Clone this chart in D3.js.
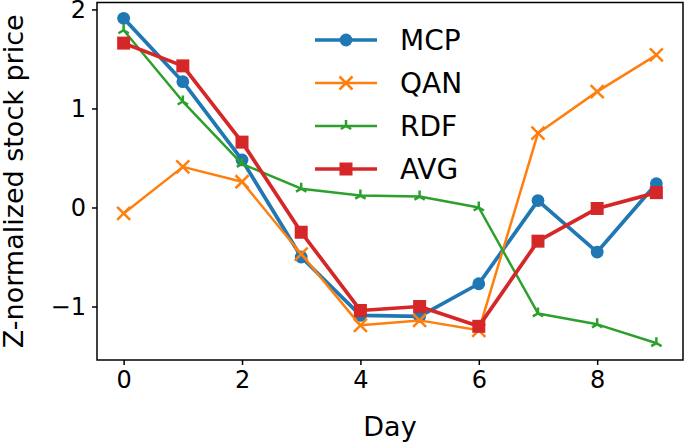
<!DOCTYPE html>
<html>
<head>
<meta charset="utf-8">
<script src="https://cdn.jsdelivr.net/npm/d3@7"></script>
<style>
  body { margin: 0; background: #fff; }
  svg { display: block; font-family: "DejaVu Sans", sans-serif; }
</style>
</head>
<body>
<svg width="685" height="443"></svg>
<script>
// data
var days = [0, 1, 2, 3, 4, 5, 6, 7, 8, 9];
var mcp = [1.91, 1.27, 0.48, -0.50, -1.09, -1.10, -0.77, 0.07, -0.45, 0.24];
var qan = [-0.06, 0.41, 0.26, -0.47, -1.19, -1.14, -1.24, 0.75, 1.17, 1.54];
var rdf = [1.79, 1.07, 0.44, 0.19, 0.12, 0.11, 0.00, -1.07, -1.18, -1.37];
var avg = [1.66, 1.43, 0.66, -0.25, -1.04, -1.00, -1.20, -0.34, -0.01, 0.15];
var xTicks = [0, 2, 4, 6, 8];
var yTicks = [-1, 0, 1, 2];

var seriesList = [
    { name: "MCP", values: mcp, color: "#1f77b4", width: 3.7, marker: "circle" },
    { name: "QAN", values: qan, color: "#ff7f0e", width: 2.5, marker: "x" },
    { name: "RDF", values: rdf, color: "#2ca02c", width: 2.5, marker: "tri" },
    { name: "AVG", values: avg, color: "#d62728", width: 3.7, marker: "square" }
];

var svg = d3.select("svg");
// plot area edges (pixels)
var plotLeft = 97, plotRight = 683, plotTop = 2.5, plotBottom = 360;

var xScale = d3.scaleLinear().domain([-0.45, 9.45]).range([plotLeft, plotRight]);
var yScale = d3.scaleLinear().domain([-1.54, 2.07]).range([plotBottom, plotTop]);

// markers
function drawMarker(g, type, color) {
    if (type === "circle") {
        g.append("circle").attr("r", 6.4).attr("fill", color);
    } else if (type === "square") {
        g.append("rect").attr("x", -6.5).attr("y", -6.5).attr("width", 13).attr("height", 13).attr("fill", color);
    } else if (type === "x") {
        g.append("path").attr("d", "M-6.5,-6.5L6.5,6.5M-6.5,6.5L6.5,-6.5")
            .attr("stroke", color).attr("stroke-width", 2.5).attr("fill", "none");
    } else if (type === "tri") {
        var r = 6;
        var a = Math.PI / 6;
        g.append("path")
            .attr("d", "M0,0L0," + (-r) + "M0,0L" + (-r * Math.cos(a)) + "," + (r * Math.sin(a)) +
                "M0,0L" + (r * Math.cos(a)) + "," + (r * Math.sin(a)))
            .attr("stroke", color).attr("stroke-width", 2.5).attr("fill", "none");
    }
}

var plotG = svg.append("g");

var line = d3.line()
    .x(function(d, i) { return xScale(days[i]); })
    .y(function(d) { return yScale(d); });

seriesList.forEach(function(s) {
    var g = plotG.append("g").attr("class", "series");
    g.append("path")
        .attr("d", line(s.values))
        .attr("fill", "none")
        .attr("stroke", s.color)
        .attr("stroke-width", s.width)
        .attr("stroke-linejoin", "round")
        .attr("stroke-linecap", "square");
    g.selectAll(".pt")
        .data(s.values)
        .enter()
        .append("g")
        .attr("class", "pt")
        .attr("transform", function(d, i) { return "translate(" + xScale(days[i]) + "," + yScale(d) + ")"; })
        .each(function() { drawMarker(d3.select(this), s.marker, s.color); });
});

// axes
var xAxis = svg.append("g")
    .attr("transform", "translate(0," + plotBottom + ")")
    .call(d3.axisBottom(xScale).tickValues(xTicks).tickSize(5).tickPadding(6).tickFormat(d3.format("d")));
var yAxis = svg.append("g")
    .attr("transform", "translate(" + plotLeft + ",0)")
    .call(d3.axisLeft(yScale).tickValues(yTicks).tickSize(5).tickPadding(6)
        .tickFormat(function(d) { return d < 0 ? "\u2212" + Math.abs(d) : d; }));

[xAxis, yAxis].forEach(function(ax) {
    ax.select(".domain").remove();
    ax.selectAll(".tick line").attr("stroke", "#000").attr("stroke-width", 1.5);
    ax.selectAll(".tick text").attr("fill", "#000").style("font-size", "24px").style("font-family", "DejaVu Sans");
});

// frame
svg.append("rect")
    .attr("x", plotLeft).attr("y", plotTop)
    .attr("width", plotRight - plotLeft).attr("height", plotBottom - plotTop)
    .attr("fill", "none").attr("stroke", "#000").attr("stroke-width", 1.5);

// labels
svg.append("text")
    .attr("x", (plotLeft + plotRight) / 2).attr("y", 436)
    .attr("text-anchor", "middle")
    .style("font-size", "27px")
    .text("Day");

svg.append("text")
    .attr("transform", "translate(23," + ((plotTop + plotBottom) / 2) + ") rotate(-90)")
    .attr("text-anchor", "middle")
    .style("font-size", "27px")
    .text("Z-normalized stock price");

// legend
var legend = svg.append("g").attr("class", "legend");
var legendItem = legend.selectAll("g")
    .data(seriesList)
    .enter()
    .append("g")
    .attr("transform", function(d, i) { return "translate(315," + (40 + i * 43) + ")"; });

legendItem.append("line")
    .attr("x1", 0).attr("x2", 62)
    .attr("stroke", function(d) { return d.color; })
    .attr("stroke-width", function(d) { return d.width; });

legendItem.append("g")
    .attr("transform", "translate(31,0)")
    .each(function(d) { drawMarker(d3.select(this), d.marker, d.color); });

legendItem.append("text")
    .attr("x", 85).attr("y", 10)
    .style("font-size", "28px")
    .text(function(d) { return d.name; });
</script>
</body>
</html>
